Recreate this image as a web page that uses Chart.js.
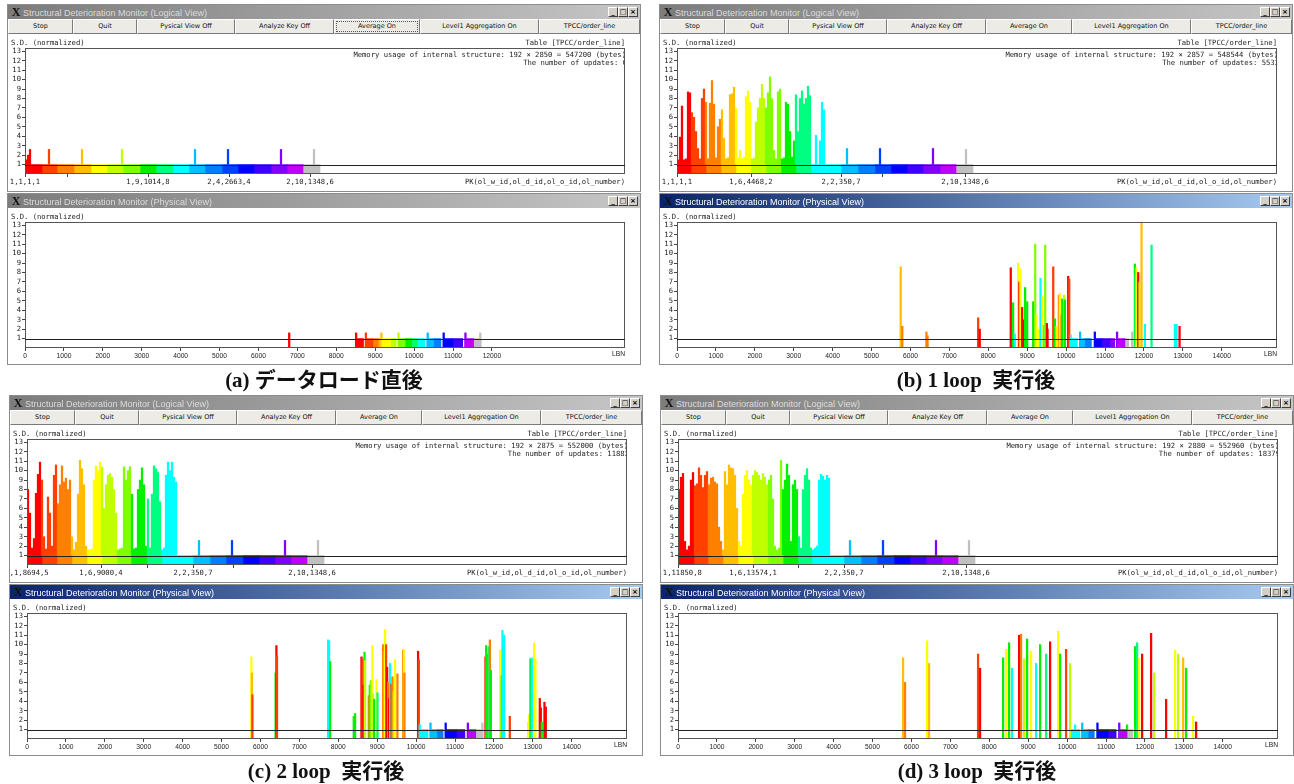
<!DOCTYPE html>
<html>
<head>
<meta charset="utf-8">
<script src="https://cdn.jsdelivr.net/npm/chart.js@4.4.1/dist/chart.umd.min.js"></script>
<style>
  body { margin: 0; background: #fff; width: 1294px; height: 784px; position: relative; overflow: hidden; }
  .win { position: absolute; width: 634px; background: #fff; border: 1px solid #8c8c8c; box-sizing: border-box; }
  .title { position: absolute; left: 0; top: 0; right: 0; height: 14px; font: 9px "Liberation Sans"; line-height: 14px; white-space: nowrap; overflow: hidden; }
  .title.off { background: linear-gradient(90deg, #7c7c7c, #c6c6c6); color: #dcdcdc; }
  .title.on { background: linear-gradient(90deg, #0a246a, #a6caf0); color: #fff; }
  .logo { display: inline-block; width: 12px; margin: 0 1px 0 2px; font: bold 12px "Liberation Serif"; color: #111; text-align: center; }
  .ctl { position: absolute; top: 2px; width: 10px; height: 10px; background: #d4d0c8; border: 1px solid; border-color: #fff #404040 #404040 #fff; box-sizing: border-box; font: bold 7px/8px "DejaVu Sans"; color: #000; text-align: center; }
  .btns { position: absolute; left: 0; top: 14px; height: 15px; display: flex; }
  .btn { height: 15px; box-sizing: border-box; border: 1px solid; border-color: #fff #7a7a7a #7a7a7a #fff; background: #ecebe6; font: 6.5px/13px "DejaVu Sans"; text-align: center; color: #111; white-space: nowrap; }
  .mono { position: absolute; font: 7.2px "DejaVu Sans Mono"; color: #222; white-space: nowrap; line-height: 8px; }
  .small { position: absolute; font: 6.7px "Liberation Sans"; color: #222; line-height: 8px; }
  canvas { position: absolute; left: 0; }
  .cap { position: absolute; width: 634px; text-align: center; font: bold 21px "Liberation Serif", "Noto Sans CJK JP"; color: #111; white-space: pre; }
</style>
</head>
<body>
<script>
// key-range colours of the logical band, red -> gray
const segColors = ['#ff0000', '#ff4000', '#ff8000', '#ffbf00', '#ffff00', '#bfff00', '#80ff00', '#00f000', '#00ff80',
  '#00ffff', '#00bfff', '#0080ff', '#0040ff', '#0000ff', '#4000ff', '#8000ff', '#bf00ff', '#c0c0c0']

const yTicks = [1, 2, 3, 4, 5, 6, 7, 8, 9, 10, 11, 12, 13]
const physTicksShort = [0, 1000, 2000, 3000, 4000, 5000, 6000, 7000, 8000, 9000, 10000, 11000, 12000]
const physTicksFull = [0, 1000, 2000, 3000, 4000, 5000, 6000, 7000, 8000, 9000, 10000, 11000, 12000, 13000, 14000]

const btnLabels = ['Stop', 'Quit', 'Pysical View Off', 'Analyze Key Off', 'Average On', 'Level1 Aggregation On', 'TPCC/order_line']

// ---- (a) right after data load ----
const logBandA = [0, 17, 32, 49, 66, 82, 98, 115, 131, 148, 164, 180, 197, 213, 229, 246, 262, 278, 295]
const logTickPosA = [0, 42, 123, 204, 285]
const logTickLblA = ['1,1,1,1', '', '1,9,1014,8', '2,4,2663,4', '2,10,1348,6']
const logDenseA = [1.5, 2.0, 2.6]
const logSparsePosA = [24, 57, 97, 170, 203, 256, 289]
const logSparseValA = [2.6, 2.6, 2.6, 2.6, 2.6, 2.6, 2.6]
const physBandA = [[8510, 8700, 0], [8760, 8940, 1], [8940, 9080, 2], [9080, 9130, 3], [9170, 9400, 4], [9400, 9540, 5],
  [9600, 9770, 6], [9770, 9940, 7], [9940, 10090, 8], [10090, 10280, 9], [10330, 10500, 10], [10500, 10690, 11],
  [10750, 11000, 13], [11000, 11250, 14], [11310, 11530, 16], [11530, 11720, 17]]
const physSpikesA = [[6790, 1.6, 0], [8510, 1.6, 0], [8760, 1.6, 1], [9160, 1.6, 3], [9600, 1.6, 5], [10350, 1.6, 10],
  [10760, 1.6, 13], [11320, 1.6, 15], [11700, 1.6, 17]]

// ---- (b) after 1 loop ----
const logBandB = [0, 14, 29, 44, 59, 74, 89, 104, 119, 134, 164, 181, 198, 214, 230, 246, 263, 279, 296]
const logTickPosB = [0, 74, 164, 205, 288]
const logTickLblB = ['1,1,1,1', '1,6,4468,2', '2,2,350,7', '', '2,10,1348,6']
const logDenseB = [1.5, 3.9, 7.2, 1.5, 1.6, 8.7, 8.6,
  6.5, 6.0, 4.5, 2.7, 1.6, 8.0, 9.0, 7.6,
  1.6, 7.5, 9.9, 7.4, 1.7, 5.0, 5.8,
  6.8, 3.8, 1.6, 1.7, 8.4, 8.5, 9.2, 7.0,
  1.7, 2.5, 1.6, 1.8, 8.2, 8.8, 7.6,
  1.6, 1.7, 5.5, 7.0, 8.0, 9.5, 8.0, 7.0,
  8.6, 10.3, 8.0, 2.5, 1.6, 8.7, 9.0,
  1.6, 1.7, 7.6, 7.4, 4.5, 1.8, 3.5, 8.4,
  4.5, 8.0, 8.8, 7.4, 8.0, 9.3, 8.3,
  0, 0, 4.1, 0, 3.5, 7.6, 6.8]
const logSparsePosB = [170, 203, 256, 289]
const logSparseValB = [2.7, 2.7, 2.7, 2.6]
const physBandB = [[10095, 10290, 9], [10350, 10480, 10], [10480, 10650, 11], [10740, 10910, 13], [10910, 11120, 14],
  [11120, 11250, 15], [11320, 11510, 16], [11510, 11610, 17]]
const physSpikesB = [[5750, 8.6, 3], [5790, 2.3, 2], [6410, 1.7, 2], [6440, 1.3, 2], [7740, 3.2, 1], [7780, 2.0, 0],
  [8578, 8.5, 0], [8638, 4.8, 7], [8680, 1.5, 9], [8767, 9.0, 4], [8793, 7.0, 1], [8827, 8.4, 4], [8870, 4.3, 0],
  [8905, 3.0, 0], [8947, 6.4, 7], [9000, 4.9, 7], [9155, 4.9, 7], [9206, 11.0, 6], [9240, 3.5, 4], [9300, 2.0, 4],
  [9343, 7.4, 9], [9386, 5.5, 4], [9429, 2.4, 9], [9463, 10.9, 6], [9506, 2.6, 0], [9523, 2.0, 0], [9669, 8.6, 1],
  [9712, 3.1, 7], [9754, 2.3, 4], [9814, 5.6, 2], [9840, 5.8, 4], [9883, 3.5, 2], [9900, 5.2, 7], [9951, 5.6, 5],
  [9969, 5.1, 7], [10054, 7.6, 0], [10080, 7.3, 1], [10123, 1.4, 17], [10360, 1.7, 10], [10738, 1.7, 13],
  [11310, 1.7, 15], [11700, 1.7, 17], [11767, 8.9, 7], [11784, 7.7, 8], [11810, 8.5, 4], [11853, 8.0, 0],
  [11887, 7.0, 5], [11938, 13.4, 3], [12024, 2.5, 9], [12196, 10.9, 8], [12796, 2.5, 9], [12839, 2.5, 9], [12916, 2.3, 0]]

// ---- (c) after 2 loops ----
const logBandC = [0, 15, 30, 45, 60, 75, 90, 104, 120, 135, 166, 183, 199, 216, 232, 248, 264, 280, 297]
const logTickPosC = [0, 74, 120, 166, 207, 285]
const logTickLblC = ['1,1,8694,5', '1,6,9000,4', '', '2,2,350,7', '', '2,10,1348,6']
const logDenseC = [8.0, 5.5, 1.8, 2.8, 7.6, 9.6, 10.9, 9.0,
  3.0, 1.7, 7.2, 5.5, 2.0, 9.5, 10.6,
  6.5, 8.5, 10.5, 8.8, 9.2, 8.0, 9.0,
  3.0, 1.6, 2.4, 7.5, 11.1, 10.2, 8.5, 2.0,
  1.6, 1.6, 1.7, 9.0, 10.5, 10.0, 10.9,
  10.4, 6.0, 8.5, 9.5, 9.7, 9.3, 8.0, 5.5,
  1.6, 1.7, 1.8, 10.4, 9.0, 10.0, 10.4,
  7.5, 1.7, 1.8, 8.0, 9.0, 10.3, 8.5, 2.0,
  7.0, 1.8, 7.5, 10.5, 10.2, 9.8, 6.7,
  1.6, 1.8, 9.5, 10.9, 10.0, 10.9, 9.3, 8.8]
const logSparsePosC = [172, 205, 258, 291]
const logSparseValC = [2.6, 2.6, 2.6, 2.6]
const physBandC = [[10094, 10308, 9], [10370, 10530, 10], [10530, 10694, 11], [10770, 11040, 13], [11040, 11254, 14],
  [11337, 11534, 16], [11550, 11680, 17]]
const physSpikesC = [[5767, 8.7, 4], [5780, 7.0, 3], [5793, 4.7, 1], [6390, 7.0, 7], [6410, 9.9, 0], [6425, 8.8, 1],
  [7738, 10.5, 9], [7764, 10.4, 9], [7790, 8.2, 7], [8398, 2.4, 7], [8432, 2.7, 7],
  [8596, 8.7, 0], [8622, 8.5, 1], [8648, 5.7, 0], [8674, 9.2, 7], [8690, 8.3, 5],
  [8784, 4.6, 2], [8810, 5.7, 7], [8836, 6.2, 6], [8879, 9.9, 4], [8896, 4.8, 5], [8922, 4.2, 7], [8982, 6.3, 4],
  [9008, 4.9, 8], [9152, 10.0, 2], [9178, 9.3, 9], [9203, 11.6, 4], [9229, 10.0, 1], [9255, 7.6, 0], [9280, 6.0, 2],
  [9306, 4.3, 0], [9332, 8.0, 9], [9366, 5.8, 1], [9392, 6.6, 2], [9426, 5.0, 5], [9460, 8.4, 4], [9520, 6.9, 2],
  [9666, 9.4, 1], [9680, 9.5, 4], [9700, 7.0, 2], [10051, 9.3, 0], [10070, 8.4, 1], [10094, 1.5, 9],
  [10370, 1.7, 10], [10760, 1.7, 13], [11330, 1.7, 15], [11705, 1.7, 17],
  [11784, 8.7, 0], [11801, 9.9, 7], [11835, 9.0, 7], [11870, 9.8, 8], [11896, 10.5, 2], [11921, 7.3, 7],
  [12159, 9.4, 4], [12202, 6.7, 7], [12219, 11.5, 9], [12262, 11.0, 9], [12408, 2.4, 1],
  [12879, 1.8, 4], [12905, 2.6, 4], [12939, 8.5, 7], [12973, 8.6, 9], [13033, 10.2, 4], [13067, 8.5, 4],
  [13179, 4.3, 0], [13205, 3.3, 0], [13230, 1.8, 7], [13299, 3.9, 0], [13333, 3.4, 0]]

// ---- (d) after 3 loops ----
const logBandD = [0, 16, 30, 45, 60, 75, 90, 105, 120, 134, 166, 183, 199, 216, 232, 248, 264, 280, 297]
const logTickPosD = [0, 75, 120, 166, 205, 288]
const logTickLblD = ['1,1,11850,8', '1,6,13574,1', '', '2,2,350,7', '', '2,10,1348,6']
const logDenseD = [8.0, 9.3, 9.7, 2.5, 1.6, 2.0, 9.0, 9.8,
  8.4, 8.6, 10.3, 9.5, 8.2, 9.5, 9.9,
  8.5, 9.2, 9.3, 8.8, 8.6, 4.0, 2.5,
  1.6, 9.9, 8.5, 10.6, 10.3, 10.2, 9.5, 6.0,
  2.5, 2.0, 7.5, 9.5, 10.0, 9.0, 8.5,
  9.5, 10.0, 9.8, 9.5, 9.0, 9.7, 9.3, 8.5,
  9.0, 9.5, 7.0, 2.0, 1.6, 1.8, 11.1,
  8.0, 9.0, 10.7, 9.5, 2.5, 8.5, 9.0, 8.0,
  3.0, 1.8, 8.0, 9.5, 10.2, 9.0, 1.8,
  1.6, 1.8, 2.0, 9.0, 9.6, 9.4, 9.0, 9.5, 9.2]
const logSparsePosD = [172, 205, 258, 291]
const logSparseValD = [2.6, 2.6, 2.6, 2.6]
const physBandD = [[10110, 10330, 9], [10380, 10540, 10], [10540, 10700, 11], [10780, 11050, 13], [11050, 11260, 14],
  [11340, 11540, 16], [11550, 11690, 17]]
const physSpikesD = [[5784, 8.6, 3], [5835, 6.0, 2], [6401, 10.4, 4], [6452, 8.0, 3], [7712, 9.0, 1], [7763, 7.5, 0],
  [8355, 8.6, 7], [8432, 9.5, 4], [8509, 10.2, 7], [8586, 7.5, 9], [8766, 11.0, 0], [8817, 11.1, 2], [8895, 8.5, 5],
  [8972, 10.6, 7], [9075, 9.3, 4], [9203, 8.0, 9], [9306, 10.0, 7], [9460, 9.0, 8], [9563, 10.3, 0], [9769, 11.4, 4],
  [9820, 9.0, 7], [9974, 9.5, 1], [10077, 8.0, 5], [10206, 1.5, 9], [10390, 1.7, 10], [10780, 1.7, 13],
  [11340, 1.7, 15], [11542, 1.5, 7], [11748, 9.8, 7], [11799, 10.2, 8], [11851, 8.6, 4], [11928, 9.0, 0],
  [12159, 11.2, 0], [12237, 7.0, 5], [12545, 4.2, 0], [12776, 9.4, 4], [12853, 9.0, 5], [12982, 8.6, 3],
  [13059, 7.5, 7], [13239, 2.4, 4], [13316, 1.8, 0]]

const LOG_MAX = 600
const PHYS_MAX = 15420
const PLOT_W = 600
const monoFont = { family: 'DejaVu Sans Mono', size: 7.2 }
const smallFont = { family: 'Liberation Sans', size: 6.7 }

const panels = [
  { ox: 7, oy: 4, physOn: false, focus: true, caption: '(a) データロード直後', mem: '192 × 2850 = 547200', updates: '0',
    band: logBandA, tickPos: logTickPosA, tickLbl: logTickLblA, dense: logDenseA, sPos: logSparsePosA, sVal: logSparseValA,
    physBand: physBandA, physSpikes: physSpikesA, physTicks: physTicksShort },
  { ox: 659, oy: 4, physOn: true, focus: false, caption: '(b) 1 loop  実行後', mem: '192 × 2857 = 548544', updates: '5532',
    band: logBandB, tickPos: logTickPosB, tickLbl: logTickLblB, dense: logDenseB, sPos: logSparsePosB, sVal: logSparseValB,
    physBand: physBandB, physSpikes: physSpikesB, physTicks: physTicksFull },
  { ox: 9, oy: 395, physOn: true, focus: false, caption: '(c) 2 loop  実行後', mem: '192 × 2875 = 552000', updates: '11882',
    band: logBandC, tickPos: logTickPosC, tickLbl: logTickLblC, dense: logDenseC, sPos: logSparsePosC, sVal: logSparseValC,
    physBand: physBandC, physSpikes: physSpikesC, physTicks: physTicksFull },
  { ox: 660, oy: 395, physOn: true, focus: false, caption: '(d) 3 loop  実行後', mem: '192 × 2880 = 552960', updates: '18379',
    band: logBandD, tickPos: logTickPosD, tickLbl: logTickLblD, dense: logDenseD, sPos: logSparsePosD, sVal: logSparseValD,
    physBand: physBandD, physSpikes: physSpikesD, physTicks: physTicksFull },
]

// plot frame + the S.D. = 1 reference line
const framePlugin = {
  id: 'frame',
  afterDatasetsDraw(chart) {
    const { ctx, chartArea: a, scales: { y } } = chart
    ctx.save()
    ctx.strokeStyle = '#555'
    ctx.lineWidth = 1
    ctx.strokeRect(a.left + 0.5, a.top + 0.5, a.width - 1, a.height - 1)
    const yy = Math.round(y.getPixelForValue(1)) + 0.5
    ctx.strokeStyle = '#222'
    ctx.beginPath()
    ctx.moveTo(a.left, yy)
    ctx.lineTo(a.right, yy)
    ctx.stroke()
    ctx.restore()
  }
}

function el(tag, cls, style, text) {
  const e = document.createElement(tag)
  if (cls) e.className = cls
  if (style) Object.assign(e.style, style)
  if (text != null) e.textContent = text
  return e
}

function titleBar(text, active) {
  const t = el('div', 'title ' + (active ? 'on' : 'off'))
  t.appendChild(el('span', 'logo', null, 'X'))
  t.appendChild(document.createTextNode(text))
  ;['_', '□', '×'].forEach((g, i) => t.appendChild(el('div', 'ctl', { left: (600 + i * 10) + 'px' }, g)))
  return t
}

function yScale() {
  return {
    type: 'linear', min: 0, max: 13.35,
    afterBuildTicks: s => { s.ticks = yTicks.map(v => ({ value: v })) },
    afterFit: s => { s.width = 17; s.paddingTop = 0; s.paddingBottom = 0 },
    grid: { drawOnChartArea: false, tickLength: 3, color: '#444' },
    border: { display: false },
    ticks: { autoSkip: false, font: monoFont, color: '#222', padding: 1 },
  }
}

function xScale(max, tickVals, labels, font, height) {
  return {
    type: 'linear', min: 0, max: max, offset: false,
    afterBuildTicks: s => { s.ticks = tickVals.map(v => ({ value: v })) },
    afterFit: s => { s.height = height; s.paddingLeft = 0; s.paddingRight = 0 },
    grid: { drawOnChartArea: false, tickLength: 3, color: '#444', offset: false },
    border: { display: false },
    ticks: { autoSkip: false, maxRotation: 0, font: font, color: '#222', padding: 1,
      callback: (v, i) => labels ? labels[i] : String(v) },
  }
}

function bandDatasets(ranges, pxPerUnit) {
  return ranges.map(r => ({
    data: [{ x: (r[0] + r[1]) / 2, y: [0, 1] }],
    backgroundColor: segColors[r[2]],
    barThickness: (r[1] - r[0]) * pxPerUnit,
    grouped: false,
    borderWidth: 0,
  }))
}

function segColorAt(band, x) {
  for (let i = 0; i < band.length - 1; i++) {
    if (x < band[i + 1]) return segColors[i]
  }
  return segColors[segColors.length - 1]
}

function makeChart(canvas, datasets, x, topPad) {
  new Chart(canvas, {
    type: 'bar',
    data: { datasets },
    options: {
      responsive: false,
      animation: false,
      events: [],
      layout: { padding: { left: 0, right: 15, top: topPad, bottom: 0 } },
      plugins: { legend: { display: false }, tooltip: { enabled: false } },
      scales: { x: x, y: yScale() },
    },
    plugins: [framePlugin],
  })
}

function logicalChart(canvas, p) {
  const ranges = p.band.slice(0, -1).map((b, i) => [b, p.band[i + 1], i])
  const spikes = []
  p.dense.forEach((h, i) => { if (h > 1) spikes.push({ x: 2 * i + 1, y: [1, h] }) })
  p.sPos.forEach((x, i) => spikes.push({ x: x, y: [1, p.sVal[i]] }))
  const datasets = bandDatasets(ranges, PLOT_W / LOG_MAX)
  datasets.push({
    data: spikes,
    backgroundColor: ctx => segColorAt(p.band, ctx.raw.x),
    barThickness: 1.6,
    grouped: false,
    borderWidth: 0,
  })
  makeChart(canvas, datasets, xScale(LOG_MAX, p.tickPos, p.tickLbl, monoFont, 16), 14)
}

function physicalChart(canvas, p) {
  const datasets = bandDatasets(p.physBand, PLOT_W / PHYS_MAX)
  datasets.push({
    data: p.physSpikes.map(s => ({ x: s[0], y: [0, s[1]], c: s[2] })),
    backgroundColor: ctx => segColors[ctx.raw.c],
    barThickness: 1.6,
    grouped: false,
    borderWidth: 0,
  })
  makeChart(canvas, datasets, xScale(PHYS_MAX, p.physTicks, null, smallFont, 15), 15)
}

function buildPanel(p) {
  // logical view window
  const lw = el('div', 'win', { left: p.ox + 'px', top: p.oy + 'px', height: '188px' })
  lw.appendChild(titleBar('Structural Deterioration Monitor (Logical View)', false))
  const btns = el('div', 'btns')
  const widths = [65, 64, 98, 99, 86, 119, 101]
  btnLabels.forEach((b, i) => {
    const d = el('div', 'btn', { width: widths[i] + 'px' })
    if (p.focus && b === 'Average On') {
      Object.assign(d.style, { outline: '1px dotted #555', outlineOffset: '-3px' })
    }
    d.appendChild(el('span', null, null, b))
    btns.appendChild(d)
  })
  lw.appendChild(btns)
  const lc = el('canvas', null, { top: '29px' })
  lc.width = 632
  lc.height = 156
  lw.appendChild(lc)
  lw.appendChild(el('div', 'mono', { left: '3px', top: '34px' }, 'S.D. (normalized)'))
  lw.appendChild(el('div', 'mono', { right: '15px', top: '34px' }, 'Table [TPCC/order_line]'))
  const memBox = el('div', null, { position: 'absolute', left: '18px', width: '598px', top: '46px', height: '16px', overflow: 'hidden' })
  memBox.appendChild(el('div', 'mono', { right: '-2px', top: '0px' }, 'Memory usage of internal structure: ' + p.mem + ' (bytes)'))
  memBox.appendChild(el('div', 'mono', { right: '-3px', top: '8px' }, 'The number of updates: ' + p.updates))
  lw.appendChild(memBox)
  lw.appendChild(el('div', 'mono', { right: '15px', top: '173px' }, 'PK(ol_w_id,ol_d_id,ol_o_id,ol_number)'))
  document.body.appendChild(lw)

  // physical view window
  const pw = el('div', 'win', { left: p.ox + 'px', top: (p.oy + 189) + 'px', height: '172px' })
  pw.appendChild(titleBar('Structural Deterioration Monitor (Physical View)', p.physOn))
  const pc = el('canvas', null, { top: '13px' })
  pc.width = 632
  pc.height = 156
  pw.appendChild(pc)
  pw.appendChild(el('div', 'mono', { left: '3px', top: '19px' }, 'S.D. (normalized)'))
  pw.appendChild(el('div', 'small', { right: '15px', top: '156px' }, 'LBN'))
  document.body.appendChild(pw)

  document.body.appendChild(el('div', 'cap', { left: p.ox + 'px', top: (p.oy + 359) + 'px' }, p.caption))

  logicalChart(lc, p)
  physicalChart(pc, p)
}

panels.forEach(buildPanel)
</script>
</body>
</html>
